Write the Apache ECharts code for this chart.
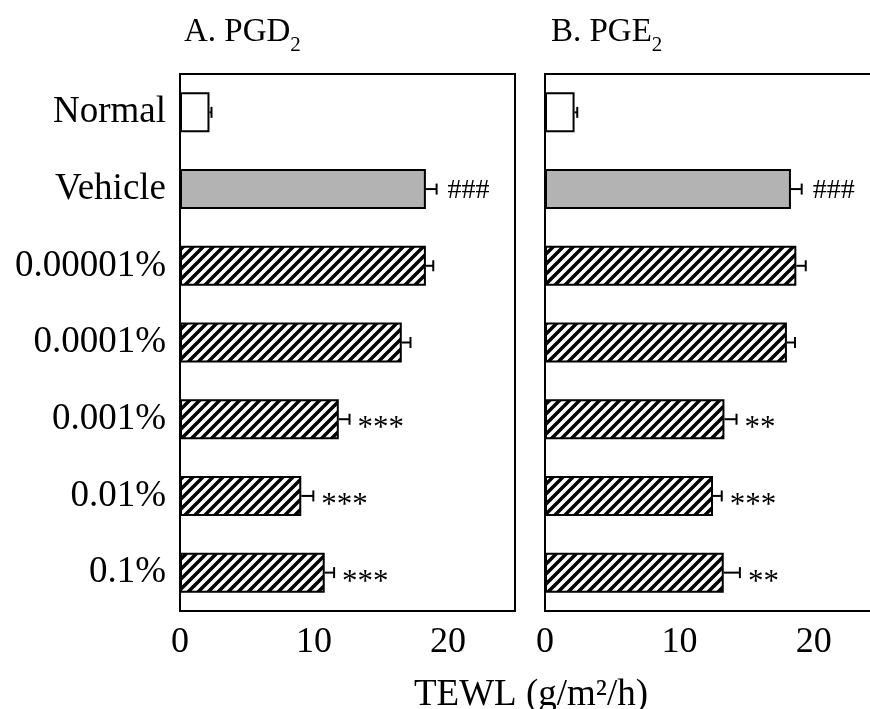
<!DOCTYPE html>
<html>
<head>
    <title>TEWL - PGD2 / PGE2</title>
    <meta charset="utf-8">
    <script src="https://cdn.jsdelivr.net/npm/echarts@6/dist/echarts.min.js"></script>
    <style>body { margin: 0; background: #fff; }</style>
</head>
<body>
    <div id="main" style="width: 870px;height:709px;"></div>

    <script type="text/javascript">
        // row labels, top to bottom
        var categories = ['Normal', 'Vehicle', '0.00001%', '0.0001%', '0.001%', '0.01%', '0.1%'];

        // A. PGD2 : mean, error, significance mark
        var pgdMean = [2.2, 18.35, 18.35, 16.55, 11.85, 9.05, 10.8];
        var pgdErr = [0.15, 0.8, 0.55, 0.65, 0.8, 0.9, 0.7];
        var pgdSig = ['', '###', '', '', '***', '***', '***'];

        // B. PGE2
        var pgeMean = [2.2, 18.3, 18.7, 18.0, 13.35, 12.5, 13.3];
        var pgeErr = [0.2, 0.8, 0.7, 0.6, 0.9, 0.65, 1.2];
        var pgeSig = ['', '###', '', '', '**', '***', '**'];

        var xTicks = [0, 10, 20];

        var serif = 'Liberation Serif';

        // diagonal hatch used for the treated groups
        var hatch = document.createElement('canvas');
        hatch.width = 10;
        hatch.height = 10;
        var hc = hatch.getContext('2d');
        hc.fillStyle = '#fff';
        hc.fillRect(0, 0, 10, 10);
        hc.strokeStyle = '#000';
        hc.lineWidth = 3.5;
        hc.beginPath();
        hc.moveTo(-5, 5); hc.lineTo(5, -5);
        hc.moveTo(0, 10); hc.lineTo(10, 0);
        hc.moveTo(5, 15); hc.lineTo(15, 5);
        hc.stroke();

        function barData(means) {
            return means.map(function (v, i) {
                var fill = i === 0 ? '#fff' : (i === 1 ? '#b3b3b3' : { image: hatch, repeat: 'repeat' });
                return { value: v, itemStyle: { color: fill } };
            });
        }

        function errData(means, errs) {
            return means.map(function (v, i) { return [v, i, errs[i]]; });
        }

        // error bar (line + cap) and the significance mark after it
        function errRenderer(sig) {
            return function (params, api) {
                var i = api.value(1);
                var p0 = api.coord([api.value(0), i]);
                var p1 = api.coord([api.value(0) + api.value(2), i]);
                var s = sig[params.dataIndex];
                var children = [
                    { type: 'line', shape: { x1: p0[0], y1: p0[1], x2: p1[0], y2: p1[1] }, style: { stroke: '#000', lineWidth: 2 } },
                    { type: 'line', shape: { x1: p1[0], y1: p1[1] - 5.5, x2: p1[0], y2: p1[1] + 5.5 }, style: { stroke: '#000', lineWidth: 2 } }
                ];
                if (s) {
                    var hash = s.charAt(0) === '#';
                    children.push({
                        type: 'text',
                        x: p1[0] + (hash ? 11 : 8),
                        y: p1[1] + (hash ? 2 : 10),
                        style: {
                            text: s, font: (hash ? 28 : 31) + 'px "Liberation Serif"', fill: '#000',
                            align: 'left', verticalAlign: 'middle'
                        }
                    });
                }
                return { type: 'group', children: children };
            };
        }

        function xAxisFor(gi) {
            return {
                gridIndex: gi,
                type: 'value',
                min: 0,
                max: 25,
                interval: 5,
                axisLine: { lineStyle: { color: '#000', width: 2 } },
                axisTick: { inside: true, length: 5, lineStyle: { color: '#000', width: 2 } },
                splitLine: { show: false },
                axisLabel: {
                    color: '#000', fontSize: 36, fontFamily: serif, margin: 14, showMaxLabel: false,
                    formatter: function (v) { return xTicks.indexOf(v) >= 0 ? String(v) : ''; }
                }
            };
        }

        function yAxisFor(gi) {
            return {
                gridIndex: gi,
                type: 'category',
                data: categories,
                inverse: true,
                axisLine: { show: false },
                axisTick: { show: false },
                axisLabel: { show: gi === 0, color: '#000', fontSize: 37, fontFamily: serif, margin: 14 }
            };
        }

        var titleRich = {
            m: { fontSize: 33, fontWeight: 'normal', fontFamily: serif, color: '#000' },
            s: { fontSize: 21, fontWeight: 'normal', fontFamily: serif, color: '#000', padding: [26, 0, 0, 0] }
        };

        var myChart = echarts.init(document.getElementById('main'));

        var option = {
            animation: false,
            textStyle: { fontFamily: serif },
            title: [
                { text: '{m|A. PGD}{s|2}', left: 179, top: 4, textStyle: { fontWeight: 'normal', rich: titleRich } },
                { text: '{m|B. PGE}{s|2}', left: 546, top: 4, textStyle: { fontWeight: 'normal', rich: titleRich } }
            ],
            grid: [
                { left: 180, top: 74, right: 355, bottom: 98, outerBoundsMode: 'none', show: true, borderColor: '#000', borderWidth: 2 },
                { left: 545, top: 74, right: -11, bottom: 98, outerBoundsMode: 'none', show: true, borderColor: '#000', borderWidth: 2 }
            ],
            xAxis: [xAxisFor(0), xAxisFor(1)],
            yAxis: [yAxisFor(0), yAxisFor(1)],
            graphic: [{
                type: 'text',
                x: 531,
                y: 714,
                style: { text: 'TEWL (g/m²/h)', font: '37px "Liberation Serif"', fill: '#000', align: 'center', verticalAlign: 'bottom' }
            }],
            series: [
                {
                    type: 'bar', xAxisIndex: 0, yAxisIndex: 0, barWidth: 40, z: 2,
                    itemStyle: { borderColor: '#000', borderWidth: 2 },
                    data: barData(pgdMean)
                },
                {
                    type: 'custom', xAxisIndex: 0, yAxisIndex: 0, z: 3, clip: false,
                    renderItem: errRenderer(pgdSig),
                    data: errData(pgdMean, pgdErr)
                },
                {
                    type: 'bar', xAxisIndex: 1, yAxisIndex: 1, barWidth: 40, z: 2,
                    itemStyle: { borderColor: '#000', borderWidth: 2 },
                    data: barData(pgeMean)
                },
                {
                    type: 'custom', xAxisIndex: 1, yAxisIndex: 1, z: 3, clip: false,
                    renderItem: errRenderer(pgeSig),
                    data: errData(pgeMean, pgeErr)
                }
            ]
        };

        myChart.setOption(option);
    </script>
</body>
</html>
